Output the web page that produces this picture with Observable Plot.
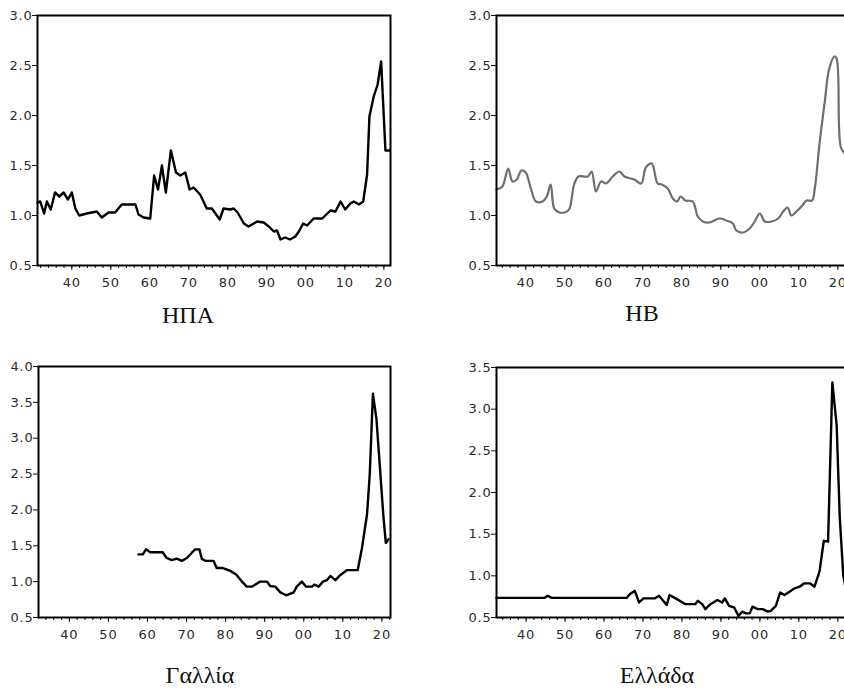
<!DOCTYPE html>
<html><head><meta charset="utf-8">
<script src="https://cdn.jsdelivr.net/npm/d3@7"></script>
<script src="https://cdn.jsdelivr.net/npm/@observablehq/plot@0.6"></script>
<style>
html,body{margin:0;padding:0;background:#fff;overflow:hidden;}
#page{position:relative;width:844px;height:689px;overflow:hidden;background:#fff;}
.cap{position:absolute;font-family:"Liberation Serif","DejaVu Serif",serif;font-size:24px;color:#111;transform:translateX(-50%);white-space:nowrap;line-height:1;}
svg text{letter-spacing:0.8px;}
</style></head><body><div id="page"></div>
<script>
// ΗΠΑ
const usYears = [1931.2,1931.9,1932.9,1933.6,1934.6,1935.7,1936.8,1937.9,1939.0,1940.0,1940.9,1941.9,1943.8,1946.4,1947.7,1949.4,1951.1,1952.8,1956.3,1957.1,1958.4,1960.1,1961.1,1962.1,1963.1,1964.1,1965.4,1966.7,1967.8,1969.1,1970.2,1971.2,1972.9,1974.6,1975.9,1977.9,1978.9,1980.6,1981.5,1982.5,1984.1,1985.3,1987.5,1989.2,1990.5,1991.8,1992.6,1993.5,1994.7,1995.9,1997.3,1998.2,1999.3,2000.3,2002.0,2004.2,2006.3,2007.6,2008.9,2010.1,2011.4,2012.3,2013.6,2014.7,2015.7,2016.3,2017.4,2018.4,2019.3,2020.4,2021.5];
const usValues = [1.13,1.14,1.02,1.14,1.06,1.23,1.19,1.23,1.16,1.23,1.07,1.00,1.02,1.04,0.98,1.03,1.03,1.11,1.11,1.01,0.98,0.97,1.40,1.26,1.50,1.23,1.65,1.43,1.40,1.43,1.26,1.28,1.21,1.07,1.07,0.96,1.07,1.06,1.07,1.03,0.92,0.89,0.94,0.93,0.89,0.84,0.85,0.76,0.78,0.76,0.79,0.84,0.92,0.90,0.97,0.97,1.05,1.04,1.14,1.06,1.12,1.14,1.11,1.14,1.41,1.99,2.19,2.31,2.54,1.65,1.65];
// ΗΒ
const ukYears = [1932.5,1934.0,1935.5,1936.6,1937.7,1938.9,1940.0,1941.3,1942.6,1944.3,1945.4,1946.4,1947.3,1948.6,1949.9,1951.1,1952.4,1953.5,1955.9,1956.9,1958.0,1959.3,1960.6,1962.3,1964.0,1965.3,1967.8,1969.6,1970.8,1972.3,1973.8,1974.9,1976.4,1977.7,1978.8,1979.7,1980.9,1982.8,1984.1,1985.4,1987.1,1989.7,1991.4,1993.1,1994.0,1995.7,1997.4,1998.7,2000.0,2001.3,2003.0,2004.7,2006.0,2007.1,2008.1,2009.4,2010.7,2012.0,2013.4,2014.1,2015.4,2016.7,2017.7,2019.1,2019.7,2020.8,2022.0];
const ukValues = [1.26,1.29,1.47,1.34,1.36,1.45,1.43,1.27,1.14,1.14,1.19,1.31,1.07,1.03,1.03,1.06,1.31,1.39,1.39,1.44,1.24,1.34,1.32,1.39,1.44,1.39,1.36,1.32,1.48,1.52,1.32,1.31,1.27,1.17,1.14,1.19,1.15,1.14,0.99,0.94,0.93,0.97,0.95,0.92,0.85,0.83,0.87,0.94,1.02,0.94,0.94,0.97,1.04,1.08,1.00,1.04,1.09,1.15,1.15,1.27,1.75,2.15,2.45,2.59,2.57,1.68,1.61];
// Γαλλία
const frYears = [1957.7,1958.8,1959.6,1960.7,1963.9,1964.9,1966.2,1967.5,1968.8,1970.1,1971.3,1972.2,1973.3,1973.9,1974.8,1976.9,1977.7,1979.3,1981.2,1982.7,1984.2,1985.4,1986.7,1988.8,1990.6,1991.4,1992.7,1994.0,1995.5,1997.4,1998.2,1999.5,2000.6,2002.1,2002.7,2003.8,2004.9,2005.9,2006.8,2008.1,2009.3,2011.0,2013.8,2014.9,2016.2,2016.9,2017.7,2018.6,2019.6,2020.4,2021.0,2021.7];
const frValues = [1.38,1.38,1.45,1.41,1.41,1.33,1.30,1.32,1.29,1.33,1.40,1.45,1.45,1.32,1.29,1.29,1.19,1.19,1.15,1.10,1.00,0.93,0.93,1.00,1.00,0.94,0.93,0.85,0.81,0.85,0.93,1.00,0.93,0.93,0.96,0.93,1.00,1.02,1.08,1.02,1.09,1.16,1.16,1.47,1.94,2.51,3.62,3.27,2.51,1.90,1.54,1.59];
// Ελλάδα
const grYears = [1932.4,1944.7,1945.5,1946.6,1965.8,1966.6,1967.9,1969.0,1970.1,1973.1,1974.1,1976.1,1976.8,1978.7,1980.9,1983.4,1984.1,1985.2,1986.0,1987.3,1989.1,1990.3,1991.0,1992.1,1993.4,1994.5,1995.5,1996.4,1997.4,1998.1,1999.4,2000.7,2002.0,2002.8,2004.1,2005.2,2006.3,2007.6,2008.9,2010.2,2011.4,2012.8,2014.0,2015.3,2016.4,2017.5,2018.6,2019.7,2020.5,2021.4,2022.4];
const grValues = [0.735,0.735,0.76,0.735,0.735,0.78,0.82,0.68,0.73,0.73,0.76,0.65,0.77,0.72,0.66,0.66,0.70,0.66,0.60,0.66,0.71,0.68,0.73,0.64,0.62,0.52,0.57,0.55,0.55,0.63,0.60,0.60,0.57,0.58,0.64,0.80,0.77,0.81,0.85,0.87,0.91,0.91,0.87,1.05,1.42,1.41,3.32,2.81,1.70,1.01,0.74];

// tick labels
const xLabelTicks = [1940,1950,1960,1970,1980,1990,2000,2010,2020];
const xMinorTicks = d3.range(1932, 2024, 2);
const yTicks3 = [0.5,1.0,1.5,2.0,2.5,3.0];
const yTicks35 = [0.5,1.0,1.5,2.0,2.5,3.0,3.5];
const yTicks4 = [0.5,1.0,1.5,2.0,2.5,3.0,3.5,4.0];
const captions = ["ΗΠΑ","ΗΒ","Γαλλία","Ελλάδα"];

const page = document.getElementById("page");

function panel(o) {
  const mL = 42, mT = 8, mR = 8, mB = 32;
  const data = o.years.map((y, i) => ({year: y, value: o.values[i]}));
  const inside = t => t > o.xDomain[0] && t < o.xDomain[1];
  const chart = Plot.plot({
    width: mL + o.w + mR, height: mT + o.h + mB,
    marginLeft: mL, marginTop: mT, marginRight: mR, marginBottom: mB,
    x: {domain: o.xDomain},
    y: {domain: [o.yTicks[0], o.yTicks[o.yTicks.length - 1]]},
    style: {fontFamily: "DejaVu Sans", fontSize: "13px", color: "#111", background: "transparent", overflow: "visible"},
    marks: [
      Plot.axisY({ticks: o.yTicks, tickFormat: d3.format(".1f"), tickSize: 5, tickPadding: 0, label: null, fill: "#2a2a2a"}),
      Plot.axisX({ticks: xMinorTicks.filter(inside), tickFormat: () => "", tickSize: 3, label: null}),
      Plot.axisX({ticks: xLabelTicks.filter(inside), tickFormat: () => "", tickSize: 5, label: null}),
      Plot.axisX({ticks: xLabelTicks, tickFormat: d => String(d % 100).padStart(2, "0"), tickSize: 0, tickPadding: 12, label: null, fill: "#2a2a2a"}),
      Plot.line(data, {x: "year", y: "value", stroke: o.stroke, strokeWidth: o.sw, curve: o.curve || "linear"}),
      Plot.frame({stroke: "#000", strokeWidth: 2})
    ]
  });
  chart.style.position = "absolute";
  chart.style.left = (o.left - mL) + "px";
  chart.style.top = (o.top - mT) + "px";
  page.appendChild(chart);
}

panel({years: usYears, values: usValues, xDomain: [1931.2, 2021.7], yTicks: yTicks3, left: 37, top: 15, w: 353, h: 250, stroke: "#000", sw: 2.4});
panel({years: ukYears, values: ukValues, xDomain: [1932.5, 2023.0], yTicks: yTicks3, left: 496, top: 15, w: 353, h: 250, stroke: "#6e6e6e", sw: 2.2, curve: "catmull-rom"});
panel({years: frYears, values: frValues, xDomain: [1932.1, 2022.2], yTicks: yTicks4, left: 38, top: 366, w: 352, h: 251, stroke: "#000", sw: 2.4});
panel({years: grYears, values: grValues, xDomain: [1932.4, 2023.0], yTicks: yTicks35, left: 496, top: 367, w: 353, h: 250, stroke: "#000", sw: 2.4});

const capPos = [[188, 303], [642, 301], [200, 663], [657, 663]];
captions.forEach((c, i) => {
  const d = document.createElement("div");
  d.className = "cap";
  d.textContent = c;
  d.style.left = capPos[i][0] + "px";
  d.style.top = capPos[i][1] + "px";
  page.appendChild(d);
});
</script>
</body></html>
